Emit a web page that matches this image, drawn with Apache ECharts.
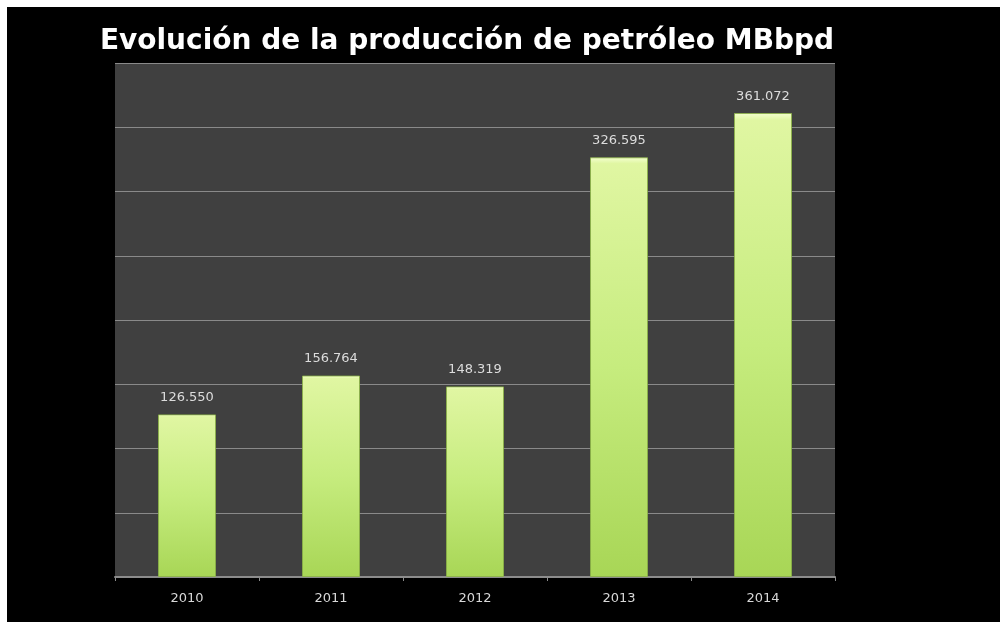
<!DOCTYPE html>
<html>
<head>
<meta charset="utf-8">
<script src="https://cdn.jsdelivr.net/npm/echarts@6/dist/echarts.min.js"></script>
<style>
html,body{margin:0;padding:0;background:#fff;width:1000px;height:622px;overflow:hidden;}
#c{position:absolute;left:7px;top:7px;width:993px;height:615px;background:#000;}
</style>
</head>
<body>
<div id="c"></div>
<script>
var titleText = 'Evolución de la producción de petróleo MBbpd';
var categories = ['2010', '2011', '2012', '2013', '2014'];
var values = [126.550, 156.764, 148.319, 326.595, 361.072];
var valueLabels = ['126.550', '156.764', '148.319', '326.595', '361.072'];

var chart = echarts.init(document.getElementById('c'), null, {renderer: 'canvas'});
chart.setOption({
  backgroundColor: '#000',
  animation: false,
  title: {
    text: titleText,
    left: 455, textAlign: 'center', top: 16,
    textStyle: {color: '#fff', fontSize: 28, fontWeight: 'bold', fontFamily: 'DejaVu Sans, sans-serif'}
  },
  grid: {left: 108, top: 56, right: 165, bottom: 45, show: true, backgroundColor: '#404040', borderWidth: 0},
  xAxis: {
    type: 'category',
    data: categories,
    axisLine: {lineStyle: {color: '#8c8c8c', width: 2}},
    axisTick: {show: true, length: 4, lineStyle: {color: '#8c8c8c'}},
    axisLabel: {color: '#d8d8d8', fontSize: 13, margin: 15, fontFamily: 'DejaVu Sans, sans-serif'}
  },
  yAxis: {
    type: 'value', min: 0, max: 400, interval: 50,
    axisLabel: {show: false},
    axisLine: {show: false}, axisTick: {show: false},
    splitLine: {lineStyle: {color: '#8a8a8a', width: 1}}
  },
  series: [{
    type: 'bar',
    data: values,
    barWidth: 58,
    itemStyle: {
      color: new echarts.graphic.LinearGradient(0, 0, 0, 1, [
        {offset: 0, color: '#f4ffd0'},
        {offset: 0.015, color: '#e0f6a2'},
        {offset: 0.5, color: '#c6ec7e'},
        {offset: 1, color: '#a8d656'}
      ]),
      borderColor: 'rgba(140,180,70,0.8)',
      borderWidth: 1
    },
    label: {
      show: true, position: 'top', distance: 10,
      color: '#dcdcdc', fontSize: 13, fontFamily: 'DejaVu Sans, sans-serif',
      formatter: function (p) { return valueLabels[p.dataIndex]; }
    }
  }]
});
</script>
</body>
</html>
